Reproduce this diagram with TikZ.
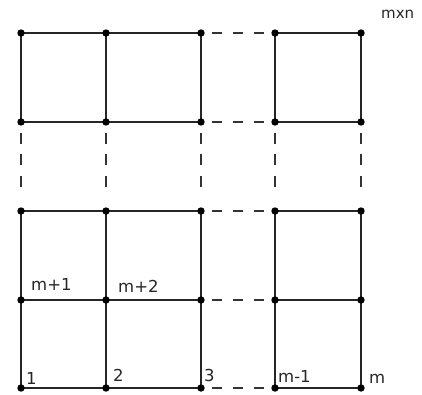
\documentclass[tikz,border=0pt]{standalone}
\usepackage{fontspec}
\setmainfont{DejaVu Sans}
\begin{document}
\begin{tikzpicture}[x=1pt,y=-1pt,
  solidedge/.style={line width=1.4pt,black!85},
  hdash/.style={line width=1.4pt,black!80,dash pattern=on 10pt off 11pt,dash phase=10pt},
  vdash/.style={line width=1.4pt,black!80,dash pattern=on 11pt off 10.5pt,dash phase=11pt,shorten >=23pt},
  dot/.style={fill=black},
  lab/.style={anchor=base west,inner sep=0pt,font=\fontsize{16.5}{18}\selectfont,text=black!85}]
\useasboundingbox (0,0) rectangle (422,394);
% grid points
\foreach \c/\x in {1/21,2/106,3/201,4/275,5/361}{
  \foreach \r/\y in {1/33,2/122,3/211,4/300,5/388}{
    \coordinate (p\c\r) at (\x,\y);
  }
}
% horizontal edges
\foreach \r in {1,2,3,4,5}{
  \draw[solidedge] (p1\r) -- (p2\r);
  \draw[solidedge] (p2\r) -- (p3\r);
  \draw[hdash] (p3\r) -- (p4\r);
  \draw[solidedge] (p4\r) -- (p5\r);
}
% vertical edges
\foreach \c in {1,2,3,4,5}{
  \draw[solidedge] (p\c1) -- (p\c2);
  \draw[vdash] (p\c2) -- (p\c3);
  \draw[solidedge] (p\c3) -- (p\c4);
  \draw[solidedge] (p\c4) -- (p\c5);
}
% dots
\foreach \c in {1,2,3,4,5}{
  \foreach \r in {1,2,3,4,5}{
    \fill[dot] (p\c\r) circle (3.7pt);
  }
}
% labels
\node[lab] (l1) at (26,384) {1};
\node[lab] (l2) at (113,381) {2};
\node[lab] (l3) at (204,381) {3};
\node[lab] (lm1) at (278,382) {m-1};
\node[lab] (lm) at (369,383) {m};
\node[lab] (lmp1) at (31,290) {m+1};
\node[lab] (lmp2) at (118,292) {m+2};
\node[lab,font=\fontsize{15}{17}\selectfont] (lmxn) at (381,18) {mxn};
\end{tikzpicture}
\end{document}
